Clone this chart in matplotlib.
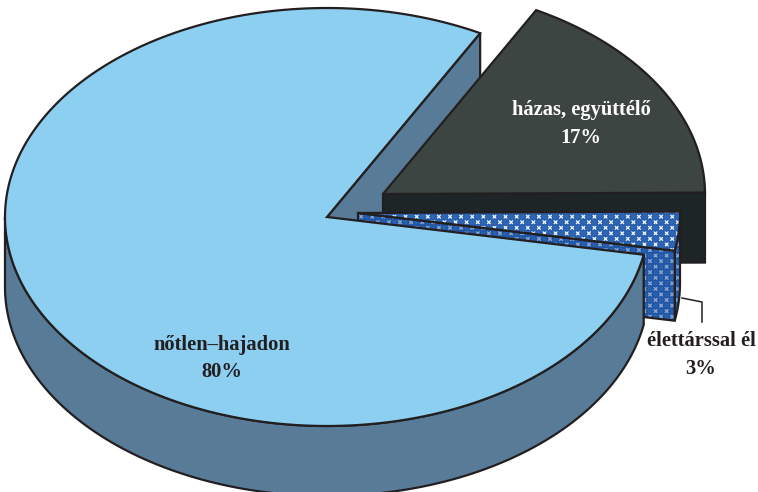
import numpy as np
import matplotlib
matplotlib.use('Agg')
import matplotlib.pyplot as plt
from matplotlib.patches import Polygon

categories = ['nőtlen–hajadon', 'házas, együttélő', 'élettárssal él']
shares = [80, 17, 3]
label_text = ['80%', '17%', '3%']

# pie layout, in pixels of the 758x492 picture
cx, cy = 327, 217
rx, ry = 322, 209
depth = 70
start_angle = 61.6
offsets = [(0, 0), (56, -23), (31, -4)]

LINE = '#231f20'
plt.rcParams['hatch.linewidth'] = 1.0


def arc(centre, a0, a1):
    t = np.radians(np.linspace(a0, a1, 200))
    return np.column_stack([centre[0] + rx * np.cos(t), centre[1] - ry * np.sin(t)])


def down(pts):
    return pts + np.array([0, depth])


def face(ax, pts, color, pattern=None):
    # hatched faces are built from layers, the outline goes on top
    ax.add_patch(Polygon(pts, closed=True, fc=color, ec='none', lw=0))
    if pattern is not None:
        ax.add_patch(Polygon(pts, closed=True, fc='none', ec=pattern[0], hatch='xxx', lw=0))
        ax.add_patch(Polygon(pts, closed=True, fc='none', ec=pattern[1], hatch='+++', lw=0))
    ax.add_patch(Polygon(pts, closed=True, fc='none', ec=LINE, lw=1.6, joinstyle='miter'))


def wall(ax, pts, color, pattern=None):
    face(ax, np.vstack([pts, down(pts)[::-1]]), color, pattern)


fig = plt.figure(figsize=(7.58, 4.92), dpi=100)
ax = fig.add_axes([0, 0, 1, 1])
ax.set_xlim(0, 758)
ax.set_ylim(492, 0)
ax.axis('off')

# slices run clockwise from the shared edge: dark one, patterned one, then the big one
sweep = [s / sum(shares) * 360 for s in shares]
married_end = start_angle - sweep[1]
partner_end = married_end - sweep[2]
single_end = partner_end - sweep[0]

main_c = (cx, cy)
married_c = (cx + offsets[1][0], cy + offsets[1][1])
partner_c = (cx + offsets[2][0], cy + offsets[2][1])

# back wall of the big slice
wall(ax, np.vstack([main_c, arc(main_c, start_angle, start_angle)[:1]]), '#587b98')

# married
m_arc = arc(married_c, start_angle, married_end)
wall(ax, np.vstack([married_c, m_arc[-1]]), '#1e2527')
face(ax, np.vstack([married_c, m_arc]), '#3d4543')

# living with partner
p_arc = arc(partner_c, married_end, partner_end)
pattern_top = ('#e4eff9', '#2a5fad')
pattern_wall = ('#8aa4cc', '#1f55a5')
wall(ax, p_arc, '#2a5fad', pattern_wall)
wall(ax, np.vstack([partner_c, p_arc[-1]]), '#2a5fad', pattern_wall)
face(ax, np.vstack([partner_c, p_arc]), '#2f66b4', pattern_top)

# never married, front wall only where it faces us
wall(ax, arc(main_c, -180, partner_end), '#587b98')
face(ax, np.vstack([main_c, arc(main_c, partner_end, single_end)]), '#8ccff0')

# leader of the small slice
ax.plot([682, 702, 702], [298, 302, 322], color=LINE, lw=1.1)

font = dict(family='Liberation Serif', weight='bold', size=14.8,
            ha='center', va='center', linespacing=1.5)
ax.text(222, 358.5, categories[0] + '\n' + label_text[0], color=LINE, **font)
ax.text(581, 124, categories[1] + '\n' + label_text[1], color='white', **font)
ax.text(701, 355, categories[2] + '\n' + label_text[2], color=LINE, **font)

fig.savefig('out.png', dpi=100)
